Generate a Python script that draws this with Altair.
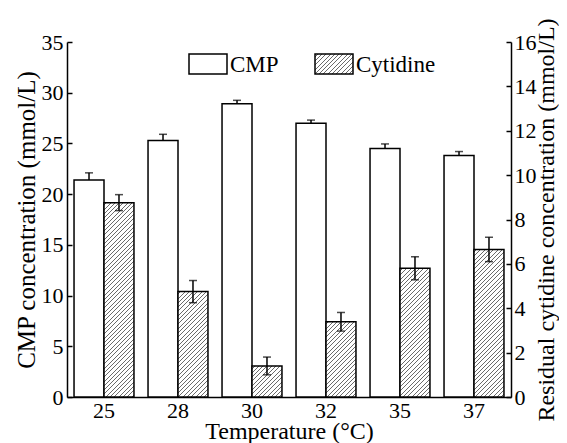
import altair as alt
import pandas as pd

# ---- data ----
temps = ["25", "28", "30", "32", "35", "37"]
cmp_vals = [21.4, 25.3, 28.9, 27.0, 24.5, 23.8]
cmp_err = [0.7, 0.6, 0.35, 0.3, 0.45, 0.4]
cyt_vals = [8.76, 4.75, 1.40, 3.39, 5.80, 6.65]
cyt_err = [0.36, 0.5, 0.4, 0.42, 0.52, 0.55]
series = ["CMP", "Cytidine"]
left_ticks = [0, 5, 10, 15, 20, 25, 30, 35]
right_ticks = [0, 2, 4, 6, 8, 10, 12, 14, 16]

W, H = 444, 355
FONT = "Liberation Serif"
BAR_W = W / (6 - 0.19 + 0.19) * 0.81 / 2

df_cmp = pd.DataFrame({"temp": temps, "val": cmp_vals, "err": cmp_err, "series": "CMP"})
df_cmp["hi"] = df_cmp["val"] + df_cmp["err"]
df_cyt = pd.DataFrame({"temp": temps, "val": cyt_vals, "err": cyt_err, "series": "Cytidine"})
df_cyt["hi"] = df_cyt["val"] + df_cyt["err"]
df_cyt["lo"] = df_cyt["val"] - df_cyt["err"]


def hatch(w, h, p=4.3, lw=1.0, col="#6a6a6a"):
    L = w + h
    k = L / (w * w + h * h)
    stops = [{"offset": 0, "color": "white"}]
    a = p / 2
    while a < L:
        o1 = round(min(a / L, 1), 5)
        o2 = round(min((a + lw) / L, 1), 5)
        stops += [
            {"offset": o1, "color": "white"},
            {"offset": o1, "color": col},
            {"offset": o2, "color": col},
            {"offset": o2, "color": "white"},
        ]
        a += p
    stops.append({"offset": 1, "color": "white"})
    return {"gradient": "linear", "x1": 0, "y1": 0, "x2": k * w, "y2": k * h, "stops": stops}


x_enc = alt.X(
    "temp:N",
    sort=temps,
    scale=alt.Scale(paddingInner=0.19, paddingOuter=0.095),
    axis=alt.Axis(
        title="Temperature (°C)", labelAngle=0, ticks=False, labelPadding=3,
        titlePadding=-2, labelFontSize=22, titleFontSize=24,
    ),
)
xo_enc = alt.XOffset("series:N", scale=alt.Scale(domain=series))

left_axis = alt.Axis(
    values=left_ticks, title="CMP concentration (mmol/L)", grid=False,
    tickSize={"expr": "-5"}, labelPadding=9, titlePadding=2,
    labelFontSize=22, titleFontSize=25,
)
right_axis = alt.Axis(
    values=right_ticks, orient="right", title="Residual cytidine concentration (mmol/L)",
    grid=False, tickSize={"expr": "-5"}, labelPadding=8, titlePadding=-2,
    titleAngle=270, titleBaseline="top",
    labelFontSize=22, titleFontSize=24,
)
ly = alt.Scale(domain=[0, 35], nice=False)
ry = alt.Scale(domain=[0, 16], nice=False)

base_c = alt.Chart(df_cmp)
cmp_bar = base_c.mark_bar(fill="white", stroke="black", strokeWidth=1.5).encode(
    x=x_enc, xOffset=xo_enc, y=alt.Y("val:Q", scale=ly, axis=left_axis)
)
cmp_rule = base_c.mark_rule(color="black", strokeWidth=1.5).encode(
    x=x_enc, xOffset=xo_enc, y=alt.Y("val:Q", scale=ly, axis=left_axis), y2="hi:Q"
)
cmp_cap = base_c.mark_tick(color="black", thickness=1.5, size=8).encode(
    x=x_enc, xOffset=xo_enc, y=alt.Y("hi:Q", scale=ly, axis=left_axis)
)

# legend
df_leg = pd.DataFrame({"series": series})
leg_cmp_box = alt.Chart(df_leg).transform_filter(alt.datum.series == "CMP").mark_rect(
    fill="white", stroke="black", strokeWidth=1.5
).encode(x=alt.value(122), x2=alt.value(160), y=alt.value(12), y2=alt.value(32))
leg_cyt_box = alt.Chart(df_leg).transform_filter(alt.datum.series == "Cytidine").mark_rect(
    fill=hatch(38, 20), stroke="black", strokeWidth=1.5
).encode(x=alt.value(248), x2=alt.value(286), y=alt.value(12), y2=alt.value(32))
leg_cmp_txt = alt.Chart(df_leg).transform_filter(alt.datum.series == "CMP").mark_text(
    align="left", baseline="middle", fontSize=23, font=FONT
).encode(x=alt.value(163), y=alt.value(23), text="series:N")
leg_cyt_txt = alt.Chart(df_leg).transform_filter(alt.datum.series == "Cytidine").mark_text(
    align="left", baseline="middle", fontSize=23, font=FONT
).encode(x=alt.value(289), y=alt.value(23), text="series:N")

left = alt.layer(cmp_bar, cmp_rule, cmp_cap, leg_cmp_box, leg_cyt_box, leg_cmp_txt, leg_cyt_txt)

cyt_layers = []
for t, v in zip(temps, cyt_vals):
    h = v / 16 * H
    cyt_layers.append(
        alt.Chart(df_cyt)
        .transform_filter(alt.datum.temp == t)
        .mark_bar(fill=hatch(BAR_W, h), stroke="black", strokeWidth=1.5)
        .encode(x=x_enc, xOffset=xo_enc, y=alt.Y("val:Q", scale=ry, axis=right_axis))
    )
base_y = alt.Chart(df_cyt)
cyt_rule = base_y.mark_rule(color="black", strokeWidth=1.5).encode(
    x=x_enc, xOffset=xo_enc, y=alt.Y("lo:Q", scale=ry, axis=right_axis), y2="hi:Q"
)
cyt_cap_hi = base_y.mark_tick(color="black", thickness=1.5, size=8).encode(
    x=x_enc, xOffset=xo_enc, y=alt.Y("hi:Q", scale=ry, axis=right_axis)
)
cyt_cap_lo = base_y.mark_tick(color="black", thickness=1.5, size=8).encode(
    x=x_enc, xOffset=xo_enc, y=alt.Y("lo:Q", scale=ry, axis=right_axis)
)
right = alt.layer(*cyt_layers, cyt_rule, cyt_cap_hi, cyt_cap_lo)

chart = (
    alt.layer(left, right)
    .resolve_scale(y="independent")
    .properties(
        width=W, height=H,
        autosize=alt.AutoSizeParams(type="none"),
        padding={"left": 59, "top": 34, "right": 48, "bottom": 46},
        background="white",
    )
    .configure_view(strokeWidth=0)
    .configure_axis(
        labelFont=FONT, titleFont=FONT, labelColor="black", titleColor="black",
        domainColor="black", domainWidth=1.5, tickColor="black", tickWidth=1.5,
        titleFontWeight="normal",
    )
    .configure_text(font=FONT)
)

chart.save("out.html", embed_options={"renderer": "svg", "actions": False})
